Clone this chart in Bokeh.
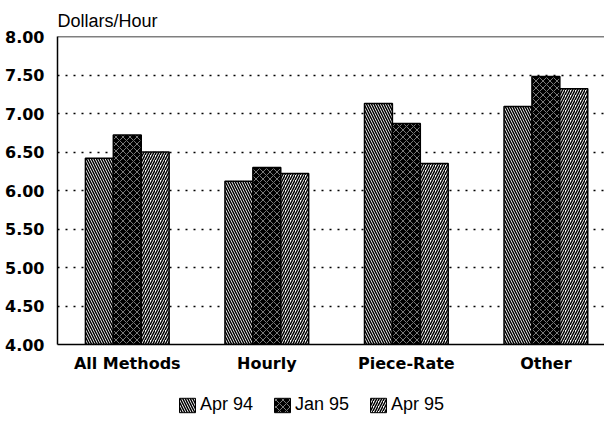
from bokeh.plotting import figure
from bokeh.layouts import column
from bokeh.models import (Range1d, FixedTicker, NumeralTickFormatter, Legend,
                          LegendItem, Span, ColumnDataSource)
from bokeh.embed import file_html
from bokeh.resources import INLINE
from bokeh.transform import dodge

# ---- data ----
categories = ["All Methods", "Hourly", "Piece-Rate", "Other"]
series_names = ["Apr 94", "Jan 95", "Apr 95"]
apr94 = [6.42, 6.12, 7.13, 7.09]
jan95 = [6.72, 6.30, 6.87, 7.48]
apr95 = [6.50, 6.22, 6.35, 7.32]
y_ticks = [4.0, 4.5, 5.0, 5.5, 6.0, 6.5, 7.0, 7.5, 8.0]
y_axis_label = "Dollars/Hour"

xs = list(range(len(categories)))
src = ColumnDataSource(dict(x=xs, apr94=apr94, jan95=jan95, apr95=apr95))

p = figure(width=604, height=380, x_range=Range1d(-0.5, 3.42),
           y_range=Range1d(y_ticks[0], y_ticks[-1]),
           output_backend="svg", toolbar_location=None,
           min_border_left=57, min_border_right=0, min_border_top=36,
           min_border_bottom=36)
p.outline_line_color = None
p.background_fill_color = "white"

p.title.text = y_axis_label
p.title.align = "left"
p.title.text_font = "Liberation Sans"
p.title.text_font_style = "normal"
p.title.text_font_size = "18px"
p.title.text_color = "black"
p.title.standoff = 12

bw = 0.2
styles = [
    dict(fill_color="white", hatch_pattern="left_diagonal_line", hatch_color="black",
         hatch_scale=5, hatch_weight=1.5),
    dict(fill_color="black", hatch_pattern="diagonal_cross", hatch_color="white",
         hatch_scale=7, hatch_weight=0.8, hatch_alpha=0.6),
    dict(fill_color="white", hatch_pattern="right_diagonal_line", hatch_color="black",
         hatch_scale=5, hatch_weight=1.5),
]
cols = ["apr94", "jan95", "apr95"]
offsets = [-bw, 0.0, bw]
for col, off, st in zip(cols, offsets, styles):
    p.vbar(x=dodge("x", off), top=col, bottom=y_ticks[0], width=bw, source=src,
           line_color="black", line_width=1.5, **st)

# top border line
p.add_layout(Span(location=y_ticks[-1], dimension="width", line_color="black",
                  line_width=1.5))

# axes
p.xaxis.ticker = FixedTicker(ticks=xs)
p.xaxis.major_label_overrides = {i: c for i, c in enumerate(categories)}
p.xaxis.major_tick_line_color = None
p.xaxis.minor_tick_line_color = None
p.xaxis.axis_line_color = "black"
p.xaxis.axis_line_width = 1.5
p.xaxis.major_label_text_font = "DejaVu Sans"
p.xaxis.major_label_text_font_style = "bold"
p.xaxis.major_label_text_font_size = "16px"
p.xaxis.major_label_text_color = "black"
p.xaxis.major_label_standoff = 3

p.yaxis.ticker = FixedTicker(ticks=y_ticks)
p.yaxis.formatter = NumeralTickFormatter(format="0.00")
p.yaxis.major_tick_line_color = None
p.yaxis.minor_tick_line_color = None
p.yaxis.axis_line_color = "black"
p.yaxis.axis_line_width = 1.5
p.yaxis.major_label_text_font = "DejaVu Sans"
p.yaxis.major_label_text_font_style = "bold"
p.yaxis.major_label_text_font_size = "16px"
p.yaxis.major_label_text_color = "black"
p.yaxis.major_label_standoff = 7

p.xgrid.visible = False
p.ygrid.ticker = FixedTicker(ticks=y_ticks)
p.ygrid.grid_line_color = "black"
p.ygrid.grid_line_dash = "2 6"
p.ygrid.grid_line_width = 1.5

# ---- legend strip (ranges far from the data, so only the legend swatches show) ----
lg = figure(width=604, height=35, x_range=Range1d(100, 101), y_range=Range1d(100, 101),
            output_backend="svg", toolbar_location=None, min_border=0)
lg.axis.visible = False
lg.grid.visible = False
lg.outline_line_color = None
items = []
for name, col, st in zip(series_names, cols, styles):
    r = lg.vbar(x="x", top=col, bottom=y_ticks[0], width=bw, source=src,
                line_color="black", line_width=1, **st)
    items.append(LegendItem(label=name, renderers=[r]))
legend = Legend(items=items, orientation="horizontal", location=(120, 0))
legend.border_line_color = None
legend.background_fill_alpha = 0
legend.label_text_font = "Liberation Sans"
legend.label_text_font_size = "18px"
legend.label_text_color = "black"
legend.glyph_width = 20
legend.glyph_height = 18
legend.label_standoff = 3
legend.spacing = 19
legend.padding = 0
legend.margin = 0
lg.add_layout(legend, "center")

layout = column(p, lg, spacing=0)
open("out.html", "w").write(file_html(layout, INLINE))
